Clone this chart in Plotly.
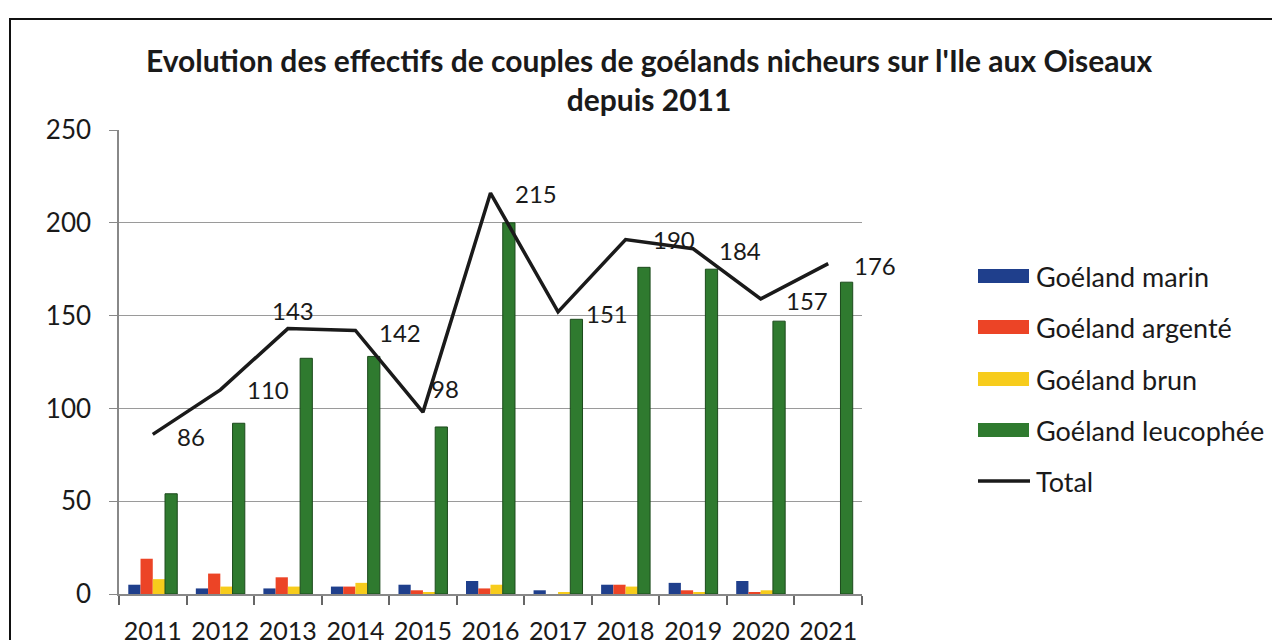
import plotly.graph_objects as go

years = ["2011", "2012", "2013", "2014", "2015", "2016", "2017", "2018", "2019", "2020", "2021"]
marin = [5, 3, 3, 4, 5, 7, 2, 5, 6, 7, 0]
argente = [19, 11, 9, 4, 2, 3, 0, 5, 2, 1, 0]
brun = [8, 4, 4, 6, 1, 5, 1, 4, 1, 2, 0]
leucophee = [54, 92, 127, 128, 90, 200, 148, 176, 175, 147, 168]
total = [86, 110, 143, 142, 98, 215, 151, 190, 184, 157, 176]
total_line = [86, 110, 143, 142, 98, 216, 152, 191, 186, 159, 178]

series_names = ["Goéland marin", "Goéland argenté", "Goéland brun", "Goéland leucophée"]
series_values = [marin, argente, brun, leucophee]
colors = ["#1f3f8c", "#ec4426", "#f7cc1c", "#2f7a2f"]
edges = ["#1a2f66", "#c43a20", "#e0b010", "#1c4a1c"]
edge_w = [0, 0, 0, 1]

# label offsets (pixels) for the total data labels
lab_dx = [22, 25, -18, 22, 6, 22, 26, 25, 24, 23, 24]
lab_dy = [-2, 0, 18, -2, 24, 0, -2, 0, -2, -2, -2]

FONT = "Lato"
fig = go.Figure()
for name, vals, c, e, ew in zip(series_names, series_values, colors, edges, edge_w):
    fig.add_trace(go.Bar(x=years, y=vals, name=name, marker=dict(color=c, line=dict(color=e, width=ew)),
                         showlegend=False))
fig.add_trace(go.Scatter(x=years, y=total_line, mode="lines", name="Total",
                         line=dict(color="#1a1a1a", width=3.5), showlegend=False))

OFF = 8  # page body margin in the browser
W, H = 1280, 640
# desired plot area in screen pixels
SX0, SX1, SY0, SY1 = 119, 862, 130, 594
L, T = SX0 - OFF, SY0 - OFF
R, B = W - (SX1 - OFF), H - (SY1 - OFF)
pw, ph = W - L - R, H - T - B
def px(x):
    return (x - SX0) / pw
def py(y):
    return (SY1 - y) / ph

annotations = []
for i, (v, tv, dx, dy) in enumerate(zip(total, total_line, lab_dx, lab_dy)):
    annotations.append(dict(x=i, y=tv, xref="x", yref="y", text=str(v), showarrow=False,
                            xanchor="left", yanchor="middle", xshift=dx, yshift=dy,
                            font=dict(family=FONT, size=24, color="#1a1a1a")))

shapes = []
# frame
shapes.append(dict(type="rect", xref="paper", yref="paper", x0=px(10), x1=px(1300), y0=py(660), y1=py(19),
                   line=dict(color="#111", width=2), fillcolor="rgba(0,0,0,0)", layer="below"))
# custom legend
leg_names = series_names + ["Total"]
leg_y = [276, 327, 379, 430, 481]
for i, (nm, yy) in enumerate(zip(leg_names, leg_y)):
    if i < 4:
        shapes.append(dict(type="rect", xref="paper", yref="paper", x0=px(978), x1=px(1029),
                           y0=py(yy + 7), y1=py(yy - 7), fillcolor=colors[i], line=dict(width=0)))
    else:
        shapes.append(dict(type="line", xref="paper", yref="paper", x0=px(978), x1=px(1030),
                           y0=py(yy), y1=py(yy), line=dict(color="#1a1a1a", width=3.5)))
    annotations.append(dict(x=px(1034), y=py(yy), xref="paper", yref="paper", text=nm, showarrow=False,
                            xanchor="left", yanchor="middle", font=dict(family=FONT, size=27, color="#1a1a1a")))

fig.update_layout(
    width=W, height=H,
    margin=dict(l=L, r=R, t=T, b=B, autoexpand=False),
    paper_bgcolor="white", plot_bgcolor="white",
    barmode="group", bargap=0.275, bargroupgap=0,
    title=dict(text="<b>Evolution des effectifs de couples de goélands nicheurs sur l'Ile aux Oiseaux<br>depuis 2011</b>",
               xref="paper", x=px(649), xanchor="center", yref="container", y=1 - 64 / H, yanchor="middle",
               font=dict(family=FONT, size=30, color="#1a1a1a")),
    annotations=annotations, shapes=shapes,
    showlegend=False,
)
fig.update_xaxes(type="category", range=[-0.5, len(years) - 0.5], autorange=False, automargin=False,
                 showline=True, linecolor="#888", linewidth=1.5, ticks="outside",
                 tickson="boundaries", ticklen=9, tickcolor="#666", tickwidth=1.5, tickangle=0,
                 tickfont=dict(family=FONT, size=25, color="#1a1a1a"), ticklabelstandoff=14)
fig.update_yaxes(range=[0, 250], autorange=False, automargin=False, dtick=50, showgrid=True,
                 gridcolor="#9a9a9a", gridwidth=1,
                 showline=True, linecolor="#888", linewidth=1.5, ticks="outside", ticklen=8,
                 tickcolor="#888", zeroline=False,
                 tickfont=dict(family=FONT, size=26, color="#1a1a1a"), ticklabelstandoff=13)

fig.write_html("out.html")
